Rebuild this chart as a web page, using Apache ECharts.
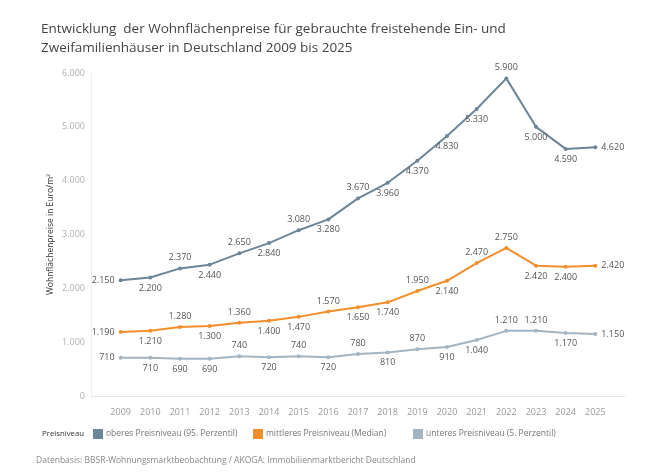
<!DOCTYPE html>
<html>
<head>
<meta charset="utf-8">
<script src="https://cdn.jsdelivr.net/npm/echarts@6/dist/echarts.min.js"></script>
<style>
  html, body { margin: 0; padding: 0; background: #fff; }
  #chart { width: 650px; height: 475px; }
</style>
</head>
<body>
<div id="chart"></div>
<script>
// Jahre (x-Achse)
const years = [2009, 2010, 2011, 2012, 2013, 2014, 2015, 2016, 2017, 2018, 2019, 2020, 2021, 2022, 2023, 2024, 2025]
// oberes Preisniveau (95. Perzentil)
const oberes = [2150, 2200, 2370, 2440, 2650, 2840, 3080, 3280, 3670, 3960, 4370, 4830, 5330, 5900, 5000, 4590, 4620]
// mittleres Preisniveau (Median)
const mittleres = [1190, 1210, 1280, 1300, 1360, 1400, 1470, 1570, 1650, 1740, 1950, 2140, 2470, 2750, 2420, 2400, 2420]
// unteres Preisniveau (5. Perzentil)
const unteres = [710, 710, 690, 690, 740, 720, 740, 720, 780, 810, 870, 910, 1040, 1210, 1210, 1170, 1150]
const yTicks = [0, 1000, 2000, 3000, 4000, 5000, 6000]

// Beschriftungspositionen (nur Darstellung)
const posOben = ['left', 'bottom', 'top', 'bottom', 'top', 'bottom', 'top', 'bottom', 'top', 'bottom', 'bottom', 'bottom', 'bottom', 'top', 'bottom', 'bottom', 'right']
const posMitte = ['left', 'bottom', 'top', 'bottom', 'top', 'bottom', 'bottom', 'top', 'bottom', 'bottom', 'top', 'bottom', 'top', 'top', 'bottom', 'bottom', 'right']
const posUnten = ['left', 'bottom', 'bottom', 'bottom', 'top', 'bottom', 'top', 'bottom', 'top', 'bottom', 'top', 'bottom', 'bottom', 'top', 'top', 'bottom', 'right']

const fmt = v => v === 0 ? '0' : String(v).replace(/\B(?=(\d{3})+(?!\d))/g, '.')
const FONT = '"Open Sans", "Noto Sans", sans-serif'

const colors = ['#6b8599', '#f28e2b', '#a3b5c3']

const makeData = (values, positions) => values.map((v, i) => ({
  value: [years[i], v],
  label: { position: positions[i], distance: 4 }
}))

const makeSeries = (name, values, positions, color) => ({
  name: name,
  type: 'line',
  data: makeData(values, positions),
  symbol: 'circle',
  symbolSize: 4,
  lineStyle: { width: 2, color: color },
  itemStyle: { color: color },
  label: {
    show: true,
    formatter: p => fmt(p.value[1]),
    fontFamily: FONT,
    fontSize: 9,
    color: '#555'
  },
  emphasis: { disabled: true },
  animation: false
})

const chart = echarts.init(document.getElementById('chart'))

const legendBase = {
  orient: 'horizontal',
  top: 429,
  padding: 0,
  itemWidth: 10,
  itemHeight: 10,
  itemGap: 4,
  icon: 'rect',
  textStyle: { fontFamily: FONT, fontSize: 8.5, color: '#777', padding: [0, 0, 0, -2] },
  selectedMode: false
}

const option = {
  backgroundColor: '#fff',
  color: colors,
  title: {
    text: 'Entwicklung  der Wohnflächenpreise für gebrauchte freistehende Ein- und\nZweifamilienhäuser in Deutschland 2009 bis 2025',
    left: 36,
    top: 15,
    textStyle: { fontFamily: FONT, fontSize: 13.5, fontWeight: 'normal', color: '#444', lineHeight: 19 }
  },
  legend: [
    Object.assign({}, legendBase, { left: 93, data: ['oberes Preisniveau (95. Perzentil)'] }),
    Object.assign({}, legendBase, { left: 253, data: ['mittleres Preisniveau (Median)'] }),
    Object.assign({}, legendBase, { left: 413, data: ['unteres Preisniveau (5. Perzentil)'] })
  ],
  graphic: [
    {
      type: 'text', left: 42, top: 430,
      style: { text: 'Preisniveau', font: '7.8px ' + FONT, fill: '#333' }
    },
    {
      type: 'text', left: 36, top: 456,
      style: { text: 'Datenbasis: BBSR-Wohnungsmarktbeobachtung / AKOGA: Immobilienmarktbericht Deutschland', font: '8.5px ' + FONT, fill: '#888' }
    }
  ],
  grid: { left: 91, right: 25, top: 73, bottom: 79, containLabel: false },
  xAxis: {
    type: 'value',
    min: 2008,
    max: 2026,
    interval: 1,
    offset: 6,
    axisLine: { show: true, lineStyle: { color: '#e6e6e6' } },
    axisTick: { show: false },
    splitLine: { show: false },
    axisLabel: {
      margin: 6,
      fontFamily: FONT, fontSize: 9, color: '#999',
      formatter: v => years.indexOf(v) >= 0 ? String(v) : ''
    }
  },
  yAxis: {
    type: 'value',
    min: yTicks[0],
    max: yTicks[yTicks.length - 1],
    interval: 1000,
    name: 'Wohnflächenpreise in Euro/m²',
    nameLocation: 'middle',
    nameGap: 36,
    nameMoveOverlap: false,
    nameTextStyle: { fontFamily: FONT, fontSize: 8.5, color: '#333' },
    axisLine: { show: true, lineStyle: { color: '#eeeeee' } },
    axisTick: { show: false },
    splitLine: { show: false },
    axisLabel: { margin: 6, fontFamily: FONT, fontSize: 9, color: '#b0b0b0', formatter: fmt }
  },
  series: [
    makeSeries('oberes Preisniveau (95. Perzentil)', oberes, posOben, colors[0]),
    makeSeries('mittleres Preisniveau (Median)', mittleres, posMitte, colors[1]),
    makeSeries('unteres Preisniveau (5. Perzentil)', unteres, posUnten, colors[2])
  ]
}

chart.setOption(option)
</script>
</body>
</html>
